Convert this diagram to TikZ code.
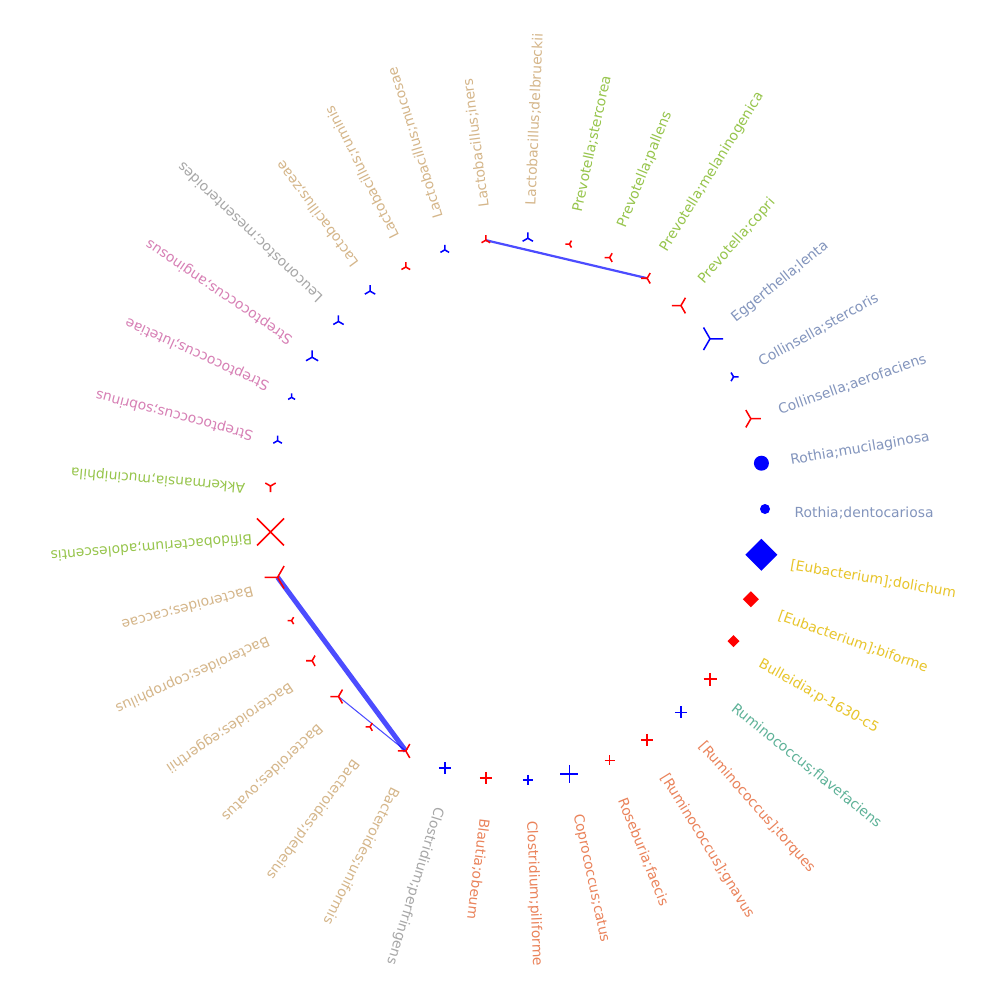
\documentclass[tikz,border=0pt]{standalone}
\usepackage{fontspec}
\setmainfont{DejaVu Sans}
\usetikzlibrary{backgrounds}
\definecolor{sTeal}{HTML}{66C2A5}
\definecolor{sOrange}{HTML}{FC8D62}
\definecolor{sSlate}{HTML}{8DA0CB}
\definecolor{sPink}{HTML}{E78AC3}
\definecolor{sGreen}{HTML}{A6D854}
\definecolor{sYellow}{HTML}{FFD92F}
\definecolor{sTan}{HTML}{E5C494}
\definecolor{sGrey}{HTML}{B3B3B3}
\colorlet{cTeal}{sTeal!92!black}
\colorlet{cOrange}{sOrange!93!black}
\colorlet{cSlate}{sSlate!93!black}
\colorlet{cPink}{sPink!93!black}
\colorlet{cGreen}{sGreen!91!black}
\colorlet{cYellow}{sYellow!91!black}
\colorlet{cTan}{sTan!93!black}
\colorlet{cGrey}{sGrey!93!black}
\definecolor{mRed}{HTML}{FF0000}
\definecolor{mBlue}{HTML}{0000FF}
\tikzset{
  mk/.style={line width=1.1pt, line cap=butt},
  lab/.style={anchor=west, inner sep=0pt, font=\fontsize{10}{12}\selectfont},
  link/.style={draw=mBlue, draw opacity=0.7}
}
\newcommand\mkup[3]{\draw[mk,#2] (#1) -- ++(0,{-#3}) (#1) -- ++({-0.866*#3},{0.5*#3}) (#1) -- ++({0.866*#3},{0.5*#3});}
\newcommand\mkdown[3]{\draw[mk,#2] (#1) -- ++(0,{#3}) (#1) -- ++({-0.866*#3},{-0.5*#3}) (#1) -- ++({0.866*#3},{-0.5*#3});}
\newcommand\mkleft[3]{\draw[mk,#2] (#1) -- ++({-#3},0) (#1) -- ++({0.5*#3},{0.866*#3}) (#1) -- ++({0.5*#3},{-0.866*#3});}
\newcommand\mkright[3]{\draw[mk,#2] (#1) -- ++({#3},0) (#1) -- ++({-0.5*#3},{0.866*#3}) (#1) -- ++({-0.5*#3},{-0.866*#3});}
\newcommand\mkplus[3]{\draw[mk,#2] (#1) ++({-#3},0) -- ++({2*#3},0) (#1) ++(0,{-#3}) -- ++(0,{2*#3});}
\newcommand\mkcross[3]{\draw[mk,#2] (#1) ++({-#3},{-#3}) -- ++({2*#3},{2*#3}) (#1) ++({-#3},{#3}) -- ++({2*#3},{-2*#3});}
\newcommand\mkdiam[3]{\fill[#2] (#1) ++({-#3},0) -- ++({#3},{#3}) -- ++({#3},{-#3}) -- ++({-#3},{-#3}) -- cycle;}
\newcommand\mkdot[3]{\fill[#2] (#1) circle[radius={#3*0.72pt}];}
% #1 index, #2 label, #3 label colour, #4 marker, #5 marker colour, #6 marker size, #7 radial label shift
\newcommand\taxitem[7][0]{%
  \pgfmathsetmacro\tang{#2*360/37}%
  \coordinate (m#2) at ({517.3+247.7*cos(\tang)},{509-271*sin(\tang)});
  \node[lab,text=#4,rotate=\tang] (l#2) at ({519.3+(275-#1)*cos(\tang)},{513-(308-#1)*sin(\tang)}) {#3};
  #5{m#2}{#6}{#7}%
}
\begin{document}
\begin{tikzpicture}[x=0.72pt,y=-0.72pt]
\useasboundingbox (0,0) rectangle (1000,1000);
\taxitem{0}{Rothia;dentocariosa}{cSlate}{\mkdot}{mBlue}{5}
\taxitem{1}{Rothia;mucilaginosa}{cSlate}{\mkdot}{mBlue}{7.5}
\taxitem{2}{Collinsella;aerofaciens}{cSlate}{\mkright}{mRed}{10}
\taxitem{3}{Collinsella;stercoris}{cSlate}{\mkright}{mBlue}{5}
\taxitem{4}{Eggerthella;lenta}{cSlate}{\mkright}{mBlue}{13}
\taxitem{5}{Prevotella;copri}{cGreen}{\mkleft}{mRed}{9}
\taxitem{6}{Prevotella;melaninogenica}{cGreen}{\mkleft}{mRed}{6}
\taxitem{7}{Prevotella;pallens}{cGreen}{\mkleft}{mRed}{5}
\taxitem{8}{Prevotella;stercorea}{cGreen}{\mkleft}{mRed}{4}
\taxitem{9}{Lactobacillus;delbrueckii}{cTan}{\mkup}{mBlue}{6}
\taxitem{10}{Lactobacillus;iners}{cTan}{\mkup}{mRed}{5}
\taxitem{11}{Lactobacillus;mucosae}{cTan}{\mkup}{mBlue}{5}
\taxitem{12}{Lactobacillus;ruminis}{cTan}{\mkup}{mRed}{5}
\taxitem{13}{Lactobacillus;zeae}{cTan}{\mkup}{mBlue}{6}
\taxitem{14}{Leuconostoc;mesenteroides}{cGrey}{\mkup}{mBlue}{6}
\taxitem{15}{Streptococcus;anginosus}{cPink}{\mkup}{mBlue}{7}
\taxitem{16}{Streptococcus;lutetiae}{cPink}{\mkup}{mBlue}{4}
\taxitem{17}{Streptococcus;sobrinus}{cPink}{\mkup}{mBlue}{5}
\taxitem{18}{Akkermansia;muciniphila}{cGreen}{\mkdown}{mRed}{6}
\taxitem[7]{19}{Bifidobacterium;adolescentis}{cGreen}{\mkcross}{mRed}{13.5}
\taxitem{20}{Bacteroides;caccae}{cTan}{\mkleft}{mRed}{13}
\taxitem{21}{Bacteroides;coprophilus}{cTan}{\mkleft}{mRed}{4}
\taxitem{22}{Bacteroides;eggerthii}{cTan}{\mkleft}{mRed}{6}
\taxitem{23}{Bacteroides;ovatus}{cTan}{\mkleft}{mRed}{8}
\taxitem{24}{Bacteroides;plebeius}{cTan}{\mkleft}{mRed}{4.5}
\taxitem{25}{Bacteroides;uniformis}{cTan}{\mkleft}{mRed}{8}
\taxitem{26}{Clostridium;perfringens}{cGrey}{\mkplus}{mBlue}{6}
\taxitem{27}{Blautia;obeum}{cOrange}{\mkplus}{mRed}{6}
\taxitem{28}{Clostridium;piliforme}{cOrange}{\mkplus}{mBlue}{5}
\taxitem{29}{Coprococcus;catus}{cOrange}{\mkplus}{mBlue}{9}
\taxitem{30}{Roseburia;faecis}{cOrange}{\mkplus}{mRed}{5}
\taxitem{31}{[Ruminococcus];gnavus}{cOrange}{\mkplus}{mRed}{6}
\taxitem{32}{[Ruminococcus];torques}{cOrange}{\mkplus}{mBlue}{6}
\taxitem{33}{Ruminococcus;flavefaciens}{cTeal}{\mkplus}{mRed}{6.5}
\taxitem{34}{Bulleidia;p-1630-c5}{cYellow}{\mkdiam}{mRed}{6}
\taxitem{35}{[Eubacterium];biforme}{cYellow}{\mkdiam}{mRed}{8}
\taxitem{36}{[Eubacterium];dolichum}{cYellow}{\mkdiam}{mBlue}{16}
\begin{pgfonlayer}{background}
\fill[white] (0,0) rectangle (1000,1000);
\draw[link, line width=1.6pt] (m10) -- (m6);
\draw[link, line width=3.6pt] (m20) -- (m25);
\draw[link, line width=0.75pt] (m23) -- (m25);
\end{pgfonlayer}
\end{tikzpicture}
\end{document}
